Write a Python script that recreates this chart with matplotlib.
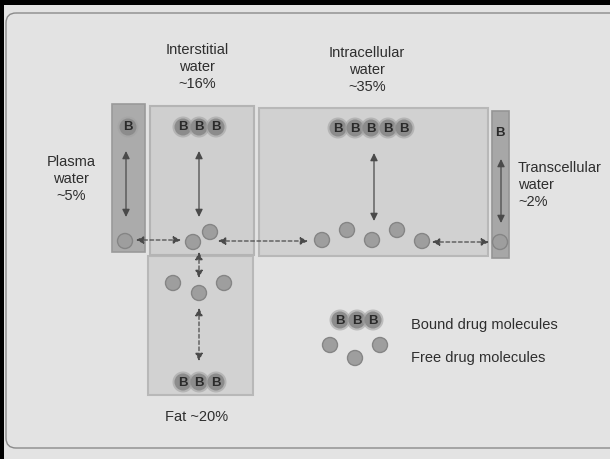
import matplotlib.pyplot as plt
from matplotlib.patches import Rectangle, Circle, FancyBboxPatch, FancyArrowPatch

plt.rcParams["font.family"] = ["Liberation Sans", "DejaVu Sans"]

# body water compartments and drug molecules shown in them
compartments = ["Plasma", "Interstitial", "Intracellular", "Transcellular", "Fat"]
water_pct = [5, 16, 35, 2, 20]
bound_counts = [1, 3, 5, 1, 3]
free_counts = [1, 2, 5, 1, 3]
legend_labels = ["Bound drug molecules", "Free drug molecules"]

BG = "#e3e3e3"
TXT = "#2e2e2e"

fig = plt.figure(figsize=(6.1, 4.59), dpi=100)
fig.patch.set_facecolor(BG)
ax = fig.add_axes([0, 0, 1, 1])
ax.set_xlim(0, 610)
ax.set_ylim(459, 0)
ax.axis("off")

# scan frame
ax.add_patch(FancyBboxPatch((6, 13), 700, 435, boxstyle="round,pad=0,rounding_size=10",
                            fc="none", ec="#8a8a8a", lw=1.0))
ax.add_patch(Rectangle((0, 0), 610, 5, fc="black", ec="none"))
ax.add_patch(Rectangle((0, 0), 4, 459, fc="black", ec="none"))


def box(x0, y0, x1, y1, fc, ec, lw=1.2, z=1):
    ax.add_patch(Rectangle((x0, y0), x1 - x0, y1 - y0, fc=fc, ec=ec, lw=lw, zorder=z))


# compartment boxes (x0, y0, x1, y1)
box(148, 256, 253, 395, "#d2d2d2", "#b8b8b8", 1.5)          # fat
box(150, 106, 254, 255, "#cfcfcf", "#b4b4b4", 1.5)          # interstitial
box(259, 108, 488, 256, "#d1d1d1", "#b8b8b8", 1.5)          # intracellular
box(112, 104, 145, 252, "#ababab", "#9a9a9a", 1.2)          # plasma
box(492, 111, 509, 258, "#a7a7a7", "#959595", 1.2)          # transcellular


def bound(xs, y):
    for x in xs:
        ax.add_patch(Circle((x, y), 10.5, fc="#a2a2a2", ec="none", alpha=0.6, zorder=3))
        ax.add_patch(Circle((x, y), 8.5, fc="#8c8c8c", ec="none", zorder=3))
        ax.text(x, y + 0.5, "B", ha="center", va="center", fontsize=9.5,
                fontweight="bold", color="#2a2a2a", zorder=4)


def free(pts):
    for x, y in pts:
        ax.add_patch(Circle((x, y), 7.5, fc="#9e9e9e", ec="#858585", lw=1.0, zorder=3))


# bound drug
bound([128], 127)
bound([183, 199, 216][:bound_counts[1]], 127)
bound([338, 355, 371, 388, 404][:bound_counts[2]], 128)
ax.text(500, 133, "B", ha="center", va="center", fontsize=9.5, fontweight="bold",
        color="#2a2a2a", zorder=4)
bound([183, 199, 216][:bound_counts[4]], 382)

# free drug
free([(125, 241)])
free([(193, 242), (210, 232)])
free([(322, 240), (347, 230), (372, 240), (397, 230), (422, 241)])
free([(500, 242)])
free([(173, 283), (199, 293), (224, 283)])


def arrow(p0, p1, dashed=False):
    a = FancyArrowPatch(p0, p1, arrowstyle="<|-|>,head_length=4.5,head_width=2.2",
                        color="#4a4a4a", lw=0.9, shrinkA=0, shrinkB=0,
                        linestyle=(0, (3, 2)) if dashed else "-", zorder=5)
    ax.add_patch(a)


# binding equilibria (solid)
arrow((126, 151), (126, 217))
arrow((199, 151), (199, 217))
arrow((374, 153), (374, 221))
arrow((501, 159), (501, 223))
arrow((199, 308), (199, 361), dashed=True)

# exchange between compartments (dashed)
arrow((136, 240), (181, 240), dashed=True)
arrow((218, 241), (308, 241), dashed=True)
arrow((432, 242), (489, 242), dashed=True)
arrow((199, 252), (199, 278), dashed=True)

fs = 10.5
ls = 1.25
ax.text(197, 67, f"Interstitial\nwater\n~{water_pct[1]}%", ha="center", va="center",
        fontsize=fs, color=TXT, linespacing=ls)
ax.text(71, 179, f"Plasma\nwater\n~{water_pct[0]}%", ha="center", va="center",
        fontsize=fs, color=TXT, linespacing=ls)
ax.text(367, 70, f"Intracellular\nwater\n~{water_pct[2]}%", ha="center", va="center",
        fontsize=fs, color=TXT, linespacing=ls)
ax.text(518, 185, f"Transcellular\nwater\n~{water_pct[3]}%", ha="left", va="center",
        fontsize=fs, color=TXT, linespacing=ls)
ax.text(197, 417, f"{compartments[4]} ~{water_pct[4]}%", ha="center", va="center",
        fontsize=fs, color=TXT)

# legend
bound([340, 357, 373], 320)
free([(330, 345), (355, 358), (380, 345)])
ax.text(411, 325, legend_labels[0], ha="left", va="center", fontsize=fs, color=TXT)
ax.text(411, 358, legend_labels[1], ha="left", va="center", fontsize=fs, color=TXT)

fig.savefig("out.png", dpi=100, facecolor=fig.get_facecolor())
